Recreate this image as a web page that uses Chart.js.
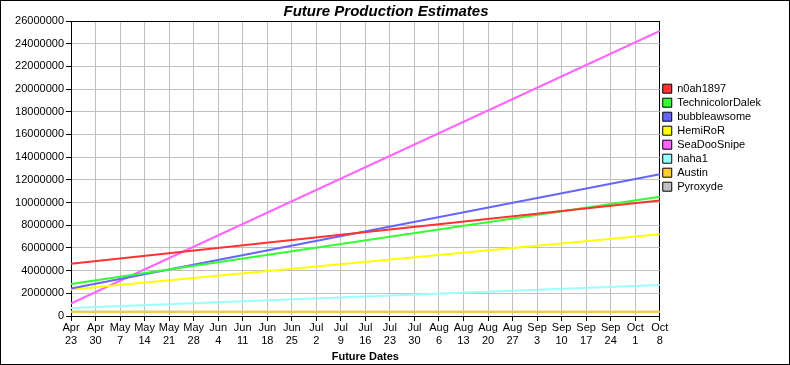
<!DOCTYPE html>
<html>
<head>
<meta charset="utf-8">
<script src="https://cdn.jsdelivr.net/npm/chart.js"></script>
<style>
    html, body { margin: 0; padding: 0; background: #fff; }
    #wrap { position: relative; width: 790px; height: 365px; border: 1px solid #000; box-sizing: border-box; }
    #wrap canvas { position: absolute; left: 0; top: 0; }
</style>
</head>
<body>
<div id="wrap"><canvas id="future-chart" width="790" height="365"></canvas></div>
<script>
// x categories (two lines each)
var dates = [
    ["Apr", "23"], ["Apr", "30"], ["May", "7"], ["May", "14"], ["May", "21"], ["May", "28"],
    ["Jun", "4"], ["Jun", "11"], ["Jun", "18"], ["Jun", "25"], ["Jul", "2"], ["Jul", "9"],
    ["Jul", "16"], ["Jul", "23"], ["Jul", "30"], ["Aug", "6"], ["Aug", "13"], ["Aug", "20"],
    ["Aug", "27"], ["Sep", "3"], ["Sep", "10"], ["Sep", "17"], ["Sep", "24"], ["Oct", "1"], ["Oct", "8"]
];
var players = ["n0ah1897", "TechnicolorDalek", "bubbleawsome", "HemiRoR", "SeaDooSnipe", "haha1", "Austin", "Pyroxyde"];
var lineColors = ["#ff3333", "#33ff33", "#6666ff", "#ffff00", "#ff66ff", "#99ffff", "#ffcc33", "#c0c0c0"];
// estimate on Apr 23 and on Oct 8
var startValues = [4610000, 2820000, 2420000, 2330000, 1100000, 710000, 380000, 380000];
var endValues = [10170000, 10520000, 12490000, 7200000, 25120000, 2730000, 380000, 380000];
var yTicks = { min: 0, max: 26000000, step: 2000000 };

var datasets = players.map(function (name, i) {
    var values = dates.map(function () { return null; });
    values[0] = startValues[i];
    values[dates.length - 1] = endValues[i];
    return {
        label: name,
        data: values,
        borderColor: lineColors[i],
        backgroundColor: lineColors[i],
        borderWidth: 2,
        pointRadius: 0,
        tension: 0,
        spanGaps: true
    };
});

Chart.defaults.font.family = "'Liberation Sans', Arial, sans-serif";
Chart.defaults.font.size = 11;
Chart.defaults.color = "#000";

new Chart("future-chart", {
    type: "line",
    data: {
        labels: dates,
        datasets: datasets
    },
    options: {
        responsive: false,
        animation: false,
        devicePixelRatio: 1,
        layout: { padding: { right: 20 } },
        plugins: {
            title: {
                display: true,
                text: "Future Production Estimates",
                color: "#000",
                font: { size: 15, weight: "bold", style: "italic" },
                padding: { top: 2, bottom: 0 }
            },
            legend: {
                position: "right",
                align: "start",
                title: { display: true, text: "", padding: { top: 66, bottom: 0 } },
                labels: {
                    boxWidth: 9,
                    boxHeight: 9,
                    padding: 3,
                    color: "#000",
                    generateLabels: function (chart) {
                        return Chart.defaults.plugins.legend.labels.generateLabels(chart).map(function (item) {
                            item.fillStyle = lineColors[item.datasetIndex];
                            item.strokeStyle = "#000";
                            item.lineWidth = 1;
                            return item;
                        });
                    }
                }
            },
            tooltip: { enabled: false }
        },
        scales: {
            x: {
                grid: {
                    color: function (ctx) { return ctx.index === dates.length - 1 ? "#000" : "#c0c0c0"; },
                    tickColor: "#000",
                    tickLength: 5
                },
                border: { color: "#000" },
                ticks: { maxRotation: 0, autoSkip: false, padding: 1, font: { lineHeight: 1.15 } },
                title: {
                    display: true,
                    text: "Future Dates",
                    font: { weight: "bold" },
                    padding: { top: 0, bottom: 2 }
                },
                afterFit: function (scale) { scale.height = 50; }
            },
            y: {
                min: yTicks.min,
                max: yTicks.max,
                grid: {
                    color: function (ctx) { return ctx.tick && ctx.tick.value === yTicks.max ? "#000" : "#c0c0c0"; },
                    tickColor: "#000",
                    tickLength: 5
                },
                border: { color: "#000" },
                ticks: {
                    stepSize: yTicks.step,
                    padding: 2,
                    callback: function (value) { return String(value); }
                },
                afterFit: function (scale) { scale.width = 70; }
            }
        }
    }
});
</script>
</body>
</html>
